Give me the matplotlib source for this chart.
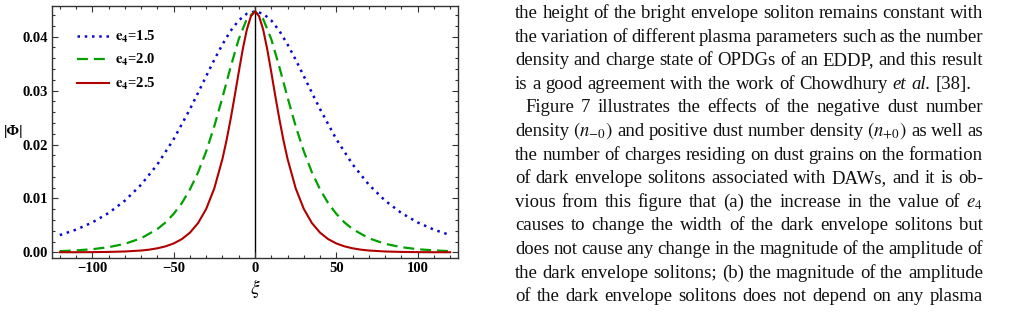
import matplotlib.pyplot as plt
from matplotlib.ticker import MultipleLocator, FormatStrFormatter

# Envelope soliton profiles |Phi| vs xi
e4_values = [1.5, 2.0, 2.5]

xi_15 = [-120, -110, -100, -90, -80, -70, -60, -50, -40, -35, -30, -25, -20, -15, -10, -5,
         0, 5, 10, 15, 20, 25, 30, 35, 40, 50, 60, 70, 80, 90, 100, 110, 120]
phi_15 = [0.00319, 0.00420, 0.00554, 0.00729, 0.00958, 0.01254, 0.01631, 0.02099, 0.02656,
          0.02959, 0.03269, 0.03574, 0.03858, 0.04108, 0.04303, 0.04427, 0.04470,
          0.04427, 0.04303, 0.04108, 0.03858, 0.03574, 0.03269, 0.02959, 0.02656,
          0.02099, 0.01631, 0.01254, 0.00958, 0.00729, 0.00554, 0.00420, 0.00319]

xi_20 = [-120, -110, -100, -90, -80, -70, -60, -55, -50, -45, -40, -35, -30, -25, -20, -15, -10, -5,
         0, 5, 10, 15, 20, 25, 30, 35, 40, 45, 50, 55, 60, 70, 80, 90, 100, 110, 120]
phi_20 = [0.00021, 0.00035, 0.00057, 0.00095, 0.00157, 0.00260, 0.00431, 0.00554, 0.00713,
          0.00911, 0.01166, 0.01483, 0.01874, 0.02341, 0.02874, 0.03436, 0.03955, 0.04331,
          0.04470,
          0.04331, 0.03955, 0.03436, 0.02874, 0.02341, 0.01874, 0.01483, 0.01166, 0.00911,
          0.00713, 0.00554, 0.00431, 0.00260, 0.00157, 0.00095, 0.00057, 0.00035, 0.00021]

xi_25 = [-120, -110, -100, -90, -80, -70, -65, -60, -55, -50, -45, -40, -35, -30, -25, -20,
         -17.5, -15, -12.5, -10, -7.5, -5, -2.5, 0, 2.5, 5, 7.5, 10, 12.5, 15, 17.5,
         20, 25, 30, 35, 40, 45, 50, 55, 60, 65, 70, 80, 90, 100, 110, 120]
phi_25 = [0.00001, 0.00001, 0.00003, 0.00007, 0.00015, 0.00033, 0.00049, 0.00074, 0.00110,
          0.00164, 0.00244, 0.00364, 0.00542, 0.00805, 0.01188, 0.01734,
          0.02078, 0.02469, 0.02897, 0.03342, 0.03771, 0.04135, 0.04382, 0.04470,
          0.04382, 0.04135, 0.03771, 0.03342, 0.02897, 0.02469, 0.02078,
          0.01734, 0.01188, 0.00805, 0.00542, 0.00364, 0.00244, 0.00164, 0.00110,
          0.00074, 0.00049, 0.00033, 0.00015, 0.00007, 0.00003, 0.00001, 0.00001]

# paragraph text beside the figure
text_lines = [
    "the height of the bright envelope soliton remains constant with",
    "the variation of different plasma parameters such as the number",
    "density and charge state of OPDGs of an EDDP, and this result",
    "is a good agreement with the work of Chowdhury et al. [38].",
    "Figure 7 illustrates the effects of the negative dust number",
    "density $(n_{-0})$ and positive dust number density $(n_{+0})$ as well as",
    "the number of charges residing on dust grains on the formation",
    "of dark envelope solitons associated with DAWs, and it is ob-",
    "vious from this figure that (a) the increase in the value of $e_4$",
    "causes to change the width of the dark envelope solitons but",
    "does not cause any change in the magnitude of the amplitude of",
    "the dark envelope solitons; (b) the magnitude of the amplitude",
    "of the dark envelope solitons does not depend on any plasma",
]
italic_words = ["et", "al."]
last_para_line = 3
indent_line = 4

plt.rcParams['mathtext.fontset'] = 'stix'
plt.rcParams['font.family'] = 'Liberation Serif'

W, H = 1029, 318
fig = plt.figure(figsize=(W / 100, H / 100), dpi=100)
ax = fig.add_axes([52 / W, 60 / H, 406 / W, 252 / H])

ax.plot(xi_15, phi_15, color='#0a0ad0', lw=1.8, linestyle=(0, (1, 1.9)),
        label=r'$\mathbf{e}_{\mathbf{4}}$=%.1f' % e4_values[0])
ax.plot(xi_20, phi_20, color='#00a000', lw=1.6, linestyle=(0, (4.9, 2.7)),
        label=r'$\mathbf{e}_{\mathbf{4}}$=%.1f' % e4_values[1])
ax.plot(xi_25, phi_25, color='#b00000', lw=1.5,
        label=r'$\mathbf{e}_{\mathbf{4}}$=%.1f' % e4_values[2])
ax.axvline(0, color='black', lw=1.0, zorder=1)

ax.set_xlim(-124.8, 124.8)
ax.set_ylim(-0.00106, 0.0457)
ax.xaxis.set_major_locator(MultipleLocator(50))
ax.xaxis.set_minor_locator(MultipleLocator(10))
ax.yaxis.set_major_locator(MultipleLocator(0.01))
ax.yaxis.set_minor_locator(MultipleLocator(0.002))
ax.yaxis.set_major_formatter(FormatStrFormatter('%.2f'))
ax.tick_params(which='both', direction='in', top=True, right=True, width=0.8, color='#333333')
ax.tick_params(which='major', length=4, labelsize=10.5, pad=3)
ax.tick_params(which='minor', length=2)
for lab in ax.get_xticklabels() + ax.get_yticklabels():
    lab.set_fontweight('bold')
for sp in ax.spines.values():
    sp.set_linewidth(1.0)
    sp.set_color('#333333')

ax.set_ylabel('|Φ|', rotation=0, fontsize=11, fontweight='bold', va='center', ha='center')
ax.yaxis.set_label_coords(-0.094, 0.50)
ax.set_xlabel(r'$\xi$', fontsize=14, va='center')
ax.xaxis.set_label_coords(0.5, -0.122)

leg = ax.legend(loc='upper left', bbox_to_anchor=(0.061, 0.91), frameon=False,
                borderpad=0, borderaxespad=0, handlelength=2.2, handletextpad=0.45,
                labelspacing=0.52, prop={'family': 'Liberation Serif', 'weight': 'bold', 'size': 10.5})

# justified paragraph on the right
renderer = fig.canvas.get_renderer()
left_px, right_px = 515, 983
base0, step = 18, 23.6
fsize = 13.5
probe = fig.text(0, 0, 'a a', fontsize=fsize)
probe2 = fig.text(0, 0, 'aa', fontsize=fsize)
space_w = probe.get_window_extent(renderer).width - probe2.get_window_extent(renderer).width
probe.remove()
probe2.remove()

for i, line in enumerate(text_lines):
    y = 1 - (base0 + step * i) / H
    x0 = left_px + (10 if i == indent_line else 0)
    words = line.split(' ')
    texts = []
    for w in words:
        style = 'italic' if w in italic_words else 'normal'
        texts.append(fig.text(0, y, w, fontsize=fsize, style=style, va='baseline', color='#111111'))
    widths = [t.get_window_extent(renderer).width for t in texts]
    if i == last_para_line:
        gap = space_w
    else:
        gap = (right_px - x0 - sum(widths)) / (len(words) - 1)
    x = x0
    for t, w in zip(texts, widths):
        t.set_x(x / W)
        x += w + gap

fig.savefig('out.png', dpi=100)
